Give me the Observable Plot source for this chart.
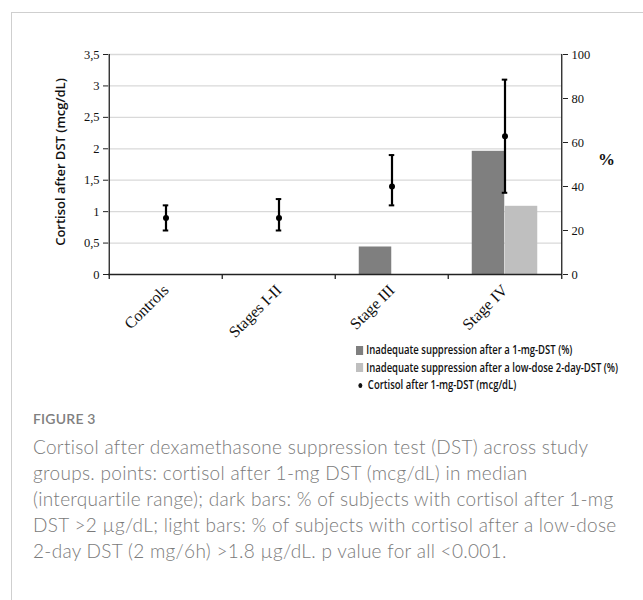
<!DOCTYPE html>
<html>
<head>
<meta charset="utf-8">
<script src="https://cdn.jsdelivr.net/npm/d3@7"></script>
<script src="https://cdn.jsdelivr.net/npm/@observablehq/plot@0.6"></script>
<style>
  html, body { margin: 0; padding: 0; background: #fff; width: 643px; height: 600px; overflow: hidden; }
  #frame { position: absolute; left: 11px; top: 12px; width: 700px; height: 700px; border-left: 1px solid #cfcfcf; border-top: 1px solid #cfcfcf; }
  #chart { position: absolute; left: 0; top: 0; }
  #ylab { position: absolute; left: 60px; top: 162px; transform: translate(-50%, -50%) rotate(-90deg); white-space: nowrap;
          font-family: "Open Sans", sans-serif; font-size: 13px; font-weight: 600; color: #111; }
  #ylab2 { position: absolute; left: 598px; top: 150px; font-family: "Liberation Serif", serif; font-size: 17px; font-weight: bold; color: #111; }
  #legend { position: absolute; left: 356px; top: 341px; font-family: "Open Sans", sans-serif; font-size: 12px; font-weight: 600; color: #111; transform-origin: 0 0; }
  #legend div { height: 17.5px; line-height: 17.5px; white-space: nowrap; }
  .sw { display: inline-block; width: 9px; height: 9px; margin-right: 4px; vertical-align: -0.5px; }
  .dt { display: inline-block; width: 5px; height: 5px; border-radius: 50%; background: #111; margin: 0 7px 1px 3px; vertical-align: middle; }
  #fig { position: absolute; left: 33px; top: 410px; font-family: "Lato", sans-serif; font-size: 14px; color: #808080; font-weight: 600; letter-spacing: 0.2px; }
  #cap { position: absolute; left: 33px; top: 434px; white-space: nowrap; font-family: "Lato", sans-serif; font-size: 19px; letter-spacing: 0.3px; line-height: 26px; color: #7a7a7a; font-weight: 300; }
</style>
</head>
<body>
<div id="frame"></div>
<div id="chart"></div>
<div id="ylab">Cortisol after DST (mcg/dL)</div>
<div id="ylab2">%</div>
<div id="legend"></div>
<div id="fig">FIGURE 3</div>
<div id="cap">Cortisol after dexamethasone suppression test (DST) across study<br>groups. points: cortisol after 1-mg DST (mcg/dL) in median<br>(interquartile range); dark bars: % of subjects with cortisol after 1-mg<br>DST &gt;2 µg/dL; light bars: % of subjects with cortisol after a low-dose<br>2-day DST (2 mg/6h) &gt;1.8 µg/dL. p value for all &lt;0.001.</div>
<script>
// ---- data ----
const categories = ["Controls", "Stages I-II", "Stage III", "Stage IV"];
const cortisolMedian = [0.9, 0.9, 1.4, 2.2];
const cortisolQ1 = [0.7, 0.7, 1.1, 1.3];
const cortisolQ3 = [1.1, 1.2, 1.9, 3.1];
const pct1mg = [0, 0, 12.5, 56];
const pctLowDose = [0, 0, 0, 31];
const leftTicks = [0, 0.5, 1, 1.5, 2, 2.5, 3, 3.5];
const leftTickLabels = ["0", "0,5", "1", "1,5", "2", "2,5", "3", "3,5"];
const rightTicks = [0, 20, 40, 60, 80, 100];
const legendLabels = [
  "Inadequate suppression after a 1-mg-DST (%)",
  "Inadequate suppression after a low-dose 2-day-DST (%)",
  "Cortisol after 1-mg-DST (mcg/dL)"
];
const darkColor = "#7f7f7f";
const lightColor = "#bfbfbf";

// ---- derived ----
const yMax = 3.5, pMax = 100;
const toY = p => p * yMax / pMax; // % -> left axis units (secondary axis)
const pts = categories.map((c, i) => ({cat: c, med: cortisolMedian[i], lo: cortisolQ1[i], hi: cortisolQ3[i]}));
const bars1 = categories.map((c, i) => ({cat: c, v: toY(pct1mg[i])})).filter(d => d.v > 0);
const bars2 = categories.map((c, i) => ({cat: c, v: toY(pctLowDose[i])})).filter(d => d.v > 0);

const W = 643, H = 400;
const mL = 108, mR = W - 562, mT = 54, mB = H - 274;
const band = (W - mL - mR) / categories.length;
const half = band / 2;
const barW = 33;
const capW = 6;
const serif = "'Liberation Serif', 'Times New Roman', serif";

const plot = Plot.plot({
  width: W, height: H,
  marginLeft: mL, marginRight: mR, marginTop: mT, marginBottom: mB,
  x: {type: "band", domain: categories, padding: 0, label: null},
  y: {domain: [0, yMax], label: null},
  style: {fontFamily: serif, fontSize: "12.5px", color: "#111", background: "transparent"},
  marks: [
    Plot.gridY(leftTicks.filter(d => d > 0), {stroke: "#d9d9d9", strokeOpacity: 1, strokeWidth: 1.3}),
    Plot.barY(bars1, {x: "cat", y: "v", fill: darkColor, insetLeft: half - barW, insetRight: half}),
    Plot.barY(bars2, {x: "cat", y: "v", fill: lightColor, insetLeft: half, insetRight: half - barW}),
    Plot.ruleX(pts, {x: "cat", y1: "lo", y2: "hi", stroke: "#000", strokeWidth: 2.2}),
    Plot.tickY(pts, {x: "cat", y: "lo", stroke: "#000", strokeWidth: 2, insetLeft: half - capW / 2, insetRight: half - capW / 2}),
    Plot.tickY(pts, {x: "cat", y: "hi", stroke: "#000", strokeWidth: 2, insetLeft: half - capW / 2, insetRight: half - capW / 2}),
    Plot.dot(pts, {x: "cat", y: "med", r: 3, fill: "#000", stroke: "none"}),
    // left axis
    Plot.axisY(leftTicks, {anchor: "left", tickSize: 5, tickPadding: 4, tickFormat: d => leftTickLabels[leftTicks.indexOf(d)], stroke: "#222", label: null}),
    Plot.ruleX([0], {x: () => categories[0], dx: -half, y1: 0, y2: yMax, stroke: "#222", strokeWidth: 1.3}),
    // right axis (%)
    Plot.axisY(rightTicks.map(toY), {anchor: "right", tickSize: 5, tickPadding: 4, tickFormat: d => String(Math.round(d * pMax / yMax)), stroke: "#222", label: null}),
    Plot.ruleX([0], {x: () => categories[categories.length - 1], dx: half, y1: 0, y2: yMax, stroke: "#222", strokeWidth: 1.3}),
    // x axis
    Plot.ruleY([0], {stroke: "#222", strokeWidth: 1.3}),
    Plot.ruleX(categories, {x: d => d, dx: -half, y1: 0, y2: 0, insetBottom: -5, stroke: "#222", strokeWidth: 1.3}),
    Plot.ruleX([categories[categories.length - 1]], {x: d => d, dx: half, y1: 0, y2: 0, insetBottom: -5, stroke: "#222", strokeWidth: 1.3}),
    Plot.axisX({tickSize: 0, tickRotate: -45, tickPadding: 13, dx: 0, fontSize: "16px", label: null})
  ]
});
document.getElementById("chart").appendChild(plot);

// legend
const lg = document.getElementById("legend");
legendLabels.forEach((t, i) => {
  const row = document.createElement("div");
  const m = document.createElement("span");
  if (i < 2) { m.className = "sw"; m.style.background = i === 0 ? darkColor : lightColor; }
  else { m.className = "dt"; }
  row.appendChild(m);
  row.appendChild(document.createTextNode(t));
  lg.appendChild(row);
});
// condense the legend horizontally to the reference's narrow type
const widest = Math.max(...Array.from(lg.children).map(r => r.scrollWidth));
const targetW = 262;
lg.style.transform = `scaleX(${targetW / widest})`;
</script>
</body>
</html>
